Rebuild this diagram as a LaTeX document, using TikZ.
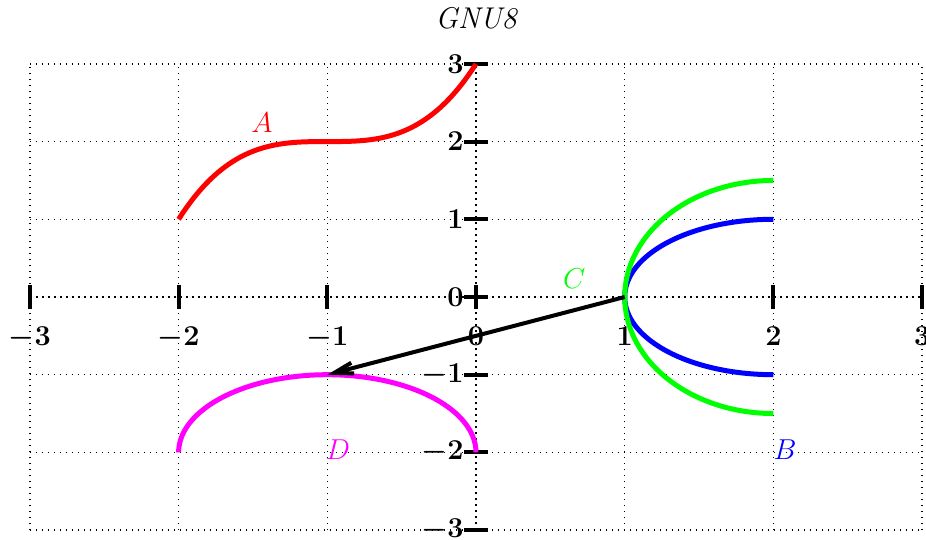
\documentclass[tikz,border=0pt]{standalone}
\usetikzlibrary{arrows.meta}
\definecolor{pmag}{RGB}{255,0,255}
\definecolor{pgreen}{RGB}{0,255,0}
\definecolor{pblue}{RGB}{0,0,255}
\definecolor{pred}{RGB}{255,0,0}
\begin{document}
\begin{tikzpicture}[x=74.35pt,y=38.85pt,
  gridline/.style={line width=0.75pt,dash pattern=on 0.75pt off 2.25pt},
  axisline/.style={line width=1.1pt,dash pattern=on 1pt off 2pt},
  tickmark/.style={line width=2pt},
  ticklab/.style={inner sep=0pt,font=\fontsize{14.5}{16}\selectfont\boldmath},
  curve/.style={line width=2.5pt},
  curvelab/.style={inner sep=0pt,font=\fontsize{14}{16}\selectfont}]
\useasboundingbox (-3.201,-3.115) rectangle (3.026,3.822);
% grid
\foreach \i in {-3,...,3} {
  \draw[gridline] (\i,-3) -- (\i,3);
  \draw[gridline] (-3,\i) -- (3,\i);
}
% axes
\draw[axisline] (-3,0) -- (3,0);
\draw[axisline] (0,-3) -- (0,3);
\foreach \i in {-3,...,3} {
  \draw[tickmark] ([yshift=-6pt]\i,0) -- ([yshift=6pt]\i,0);
  \draw[tickmark] ([xshift=-6pt]0,\i) -- ([xshift=6pt]0,\i);
  \node[ticklab,anchor=north] (xl\i) at ([yshift=-15pt]\i,0) {$\i$};
  \node[ticklab,anchor=east] (yl\i) at ([xshift=-6pt]0,\i) {$\i$};
}
% title
\node[font=\fontsize{15}{17}\selectfont\itshape] (title) at (0,3.59) {GNU8};
% curves
\draw[curve,pred] plot[domain=-2:0,samples=60,smooth] (\x,{2+(\x+1)^3});
\draw[curve,pblue] plot[domain=-90:90,samples=60,smooth] ({2-cos(\x)},{sin(\x)});
\draw[curve,pgreen] plot[domain=-90:90,samples=60,smooth] ({2-cos(\x)},{1.5*sin(\x)});
\draw[curve,pmag] plot[domain=0:180,samples=60,smooth] ({-1+cos(\x)},{-2+sin(\x)});
% arrow
\coordinate (cstart) at (1,0);
\coordinate (dend) at (-1,-1);
\draw[line width=2pt,-{Straight Barb[length=9.5pt,width=5.5pt]}] (cstart) -- (dend);
% labels
\node[curvelab,text=pred] (labA) at (-1.44,2.24) {$A$};
\node[curvelab,text=pblue] (labB) at (2.078,-1.97) {$B$};
\node[curvelab,text=pgreen] (labC) at (0.66,0.23) {$C$};
\node[curvelab,text=pmag] (labD) at (-0.928,-1.97) {$D$};
\end{tikzpicture}
\end{document}
